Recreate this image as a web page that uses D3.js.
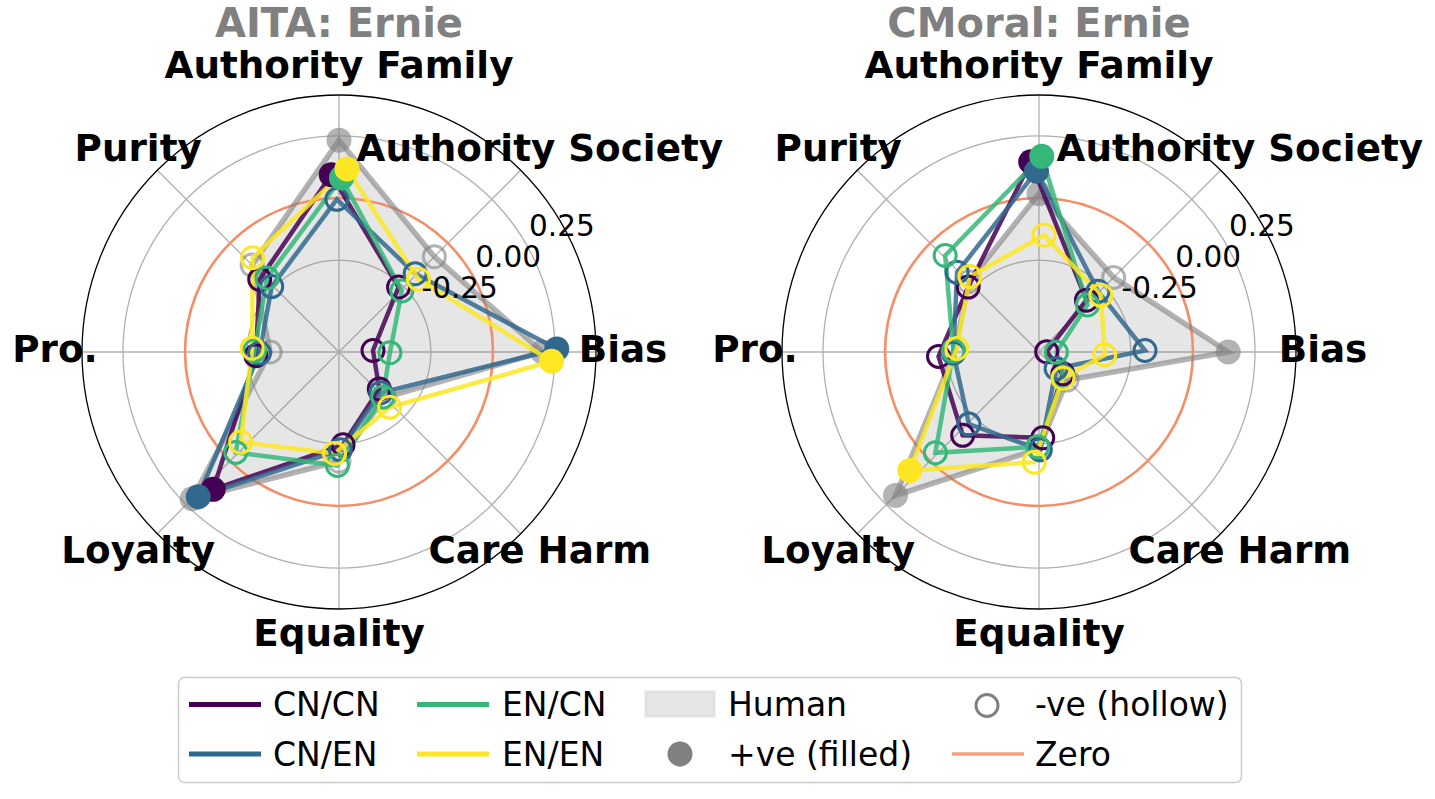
<!DOCTYPE html>
<html><head><meta charset="utf-8">
<script src="https://cdn.jsdelivr.net/npm/d3@7"></script>
<style>body{margin:0;background:#fff} svg{display:block} text{font-family:"DejaVu Sans",sans-serif}</style>
</head><body><svg id="c" width="1435" height="799"></svg>
<script>
// ---------- data ----------
const categories = ["Bias","Authority Society","Authority Family","Purity","Pro.","Loyalty","Equality","Care Harm"];
const seriesNames = ["CN/CN","CN/EN","EN/CN","EN/EN"];
const radialTicks = [-0.25, 0, 0.25];
const radialTickLabels = ["-0.25","0.00","0.25"];
const radialDomain = [-0.62, 0.415];
const chartTitles = ["AITA: Ernie","CMoral: Ernie"];

// AITA
const aitaCNCN  = [-0.483, -0.265,  0.095, -0.187, -0.285,  0.130, -0.246, -0.400];
const aitaCNEN  = [ 0.257, -0.180, -0.005, -0.242, -0.300,  0.193, -0.226, -0.385];
const aitaENCN  = [-0.415, -0.267,  0.081, -0.204, -0.280, -0.040, -0.163, -0.367];
const aitaENEN  = [ 0.237, -0.186,  0.118, -0.105, -0.270, -0.083, -0.211, -0.318];
const aitaHuman = [ 0.200, -0.077,  0.233, -0.125, -0.343,  0.216, -0.180, -0.360];
// CMoral
const cmCNCN  = [-0.589, -0.337,  0.147, -0.233, -0.215, -0.165, -0.274, -0.490];
const cmCNEN  = [-0.193, -0.279,  0.108, -0.160, -0.275, -0.215, -0.226, -0.524];
const cmENCN  = [-0.550, -0.348,  0.168, -0.078, -0.275, -0.038, -0.238, -0.478];
const cmENEN  = [-0.355, -0.282, -0.149, -0.208, -0.289,  0.086, -0.176, -0.477];
const cmHuman = [ 0.142, -0.195,  0.018, -0.220, -0.280,  0.197, -0.230, -0.460];

// ---------- style ----------
const colors = ["#440154","#31688e","#35b779","#fde725"];
const zeroColor = "#f58d66";
const gridColor = "#b0b0b0";
const cy = 352, R = 257;
const centersX = [339, 1039];
const angleOffsetDeg = [2.5, 0.8, -0.8, -2.5];

const svg = d3.select("#c");
const rScale = d3.scaleLinear().domain(radialDomain).range([0, R]);
const thetaScale = d3.scaleLinear().domain([0, categories.length]).range([0, 2*Math.PI]);

const datasets = [
  {series:[aitaCNCN, aitaCNEN, aitaENCN, aitaENEN], human: aitaHuman},
  {series:[cmCNCN, cmCNEN, cmENCN, cmENEN], human: cmHuman}
];

datasets.forEach((ds, ci) => {
  const cx = centersX[ci];
  const g = svg.append("g").attr("transform", `translate(${cx},${cy})`);
  const pt = (i, v, offDeg) => {
    const th = thetaScale(i) + offDeg*Math.PI/180;
    return [rScale(v)*Math.cos(th), -rScale(v)*Math.sin(th)];
  };
  radialTicks.forEach(t => {
    g.append("circle").attr("r", rScale(t)).attr("fill","none").attr("stroke",gridColor).attr("stroke-width",1.3);
  });
  categories.forEach((c,i) => {
    const th = thetaScale(i);
    g.append("line").attr("x1",0).attr("y1",0)
      .attr("x2", R*Math.cos(th)).attr("y2", -R*Math.sin(th))
      .attr("stroke",gridColor).attr("stroke-width",1.3);
  });
  g.append("circle").attr("r",R).attr("fill","none").attr("stroke","#000").attr("stroke-width",1.3);

  const lineGen = (off) => d3.lineRadial()
      .angle((d,i) => Math.PI/2 - (thetaScale(i) + off*Math.PI/180))
      .radius(d => rScale(d))
      .curve(d3.curveLinearClosed);
  g.append("path").attr("d", lineGen(0)(ds.human))
    .attr("fill","#808080").attr("fill-opacity",0.2).attr("stroke","none");
  g.append("circle").attr("r", rScale(0)).attr("fill","none").attr("stroke",zeroColor).attr("stroke-width",2.6);
  g.append("path").attr("d", lineGen(0)(ds.human))
    .attr("fill","none").attr("stroke","#808080").attr("stroke-opacity",0.6).attr("stroke-width",5.5);
  ds.human.forEach((v,i) => {
    const [x,y] = pt(i,v,0);
    if (v >= 0) g.append("circle").attr("cx",x).attr("cy",y).attr("r",12.5).attr("fill","#808080").attr("fill-opacity",0.6);
    else g.append("circle").attr("cx",x).attr("cy",y).attr("r",11).attr("fill","none").attr("stroke","#808080").attr("stroke-opacity",0.6).attr("stroke-width",3);
  });
  ds.series.forEach((vals, si) => {
    g.append("path").attr("d", lineGen(angleOffsetDeg[si])(vals))
      .attr("fill","none").attr("stroke",colors[si]).attr("stroke-opacity",0.85).attr("stroke-width",4.5);
  });
  ds.series.forEach((vals, si) => {
    vals.forEach((v,i) => {
      const [x,y] = pt(i,v,angleOffsetDeg[si]);
      if (v >= 0) g.append("circle").attr("cx",x).attr("cy",y).attr("r",12.5).attr("fill",colors[si]);
      else g.append("circle").attr("cx",x).attr("cy",y).attr("r",11).attr("fill","none").attr("stroke",colors[si]).attr("stroke-width",3);
    });
  });
  radialTicks.forEach((t,k) => {
    const r = rScale(t);
    g.append("text").attr("x", r*Math.cos(Math.PI/6)+3).attr("y", -r*Math.sin(Math.PI/6)-8)
      .attr("font-size",29.5).attr("fill","#000").text(radialTickLabels[k]);
  });
  categories.forEach((c,i) => {
    const th = thetaScale(i);
    g.append("text").attr("x", 284*Math.cos(th)).attr("y", -284*Math.sin(th)-3)
      .attr("text-anchor","middle").attr("dominant-baseline","central")
      .attr("font-size",37.3).attr("font-weight","bold").attr("fill","#000").text(c);
  });
  svg.append("text").attr("x",cx).attr("y",37).attr("text-anchor","middle")
    .attr("font-size",40).attr("font-weight","bold").attr("fill","#808080").text(chartTitles[ci]);
});

// ---------- legend ----------
const lg = svg.append("g");
lg.append("rect").attr("x",178.5).attr("y",677.5).attr("width",1063).attr("height",105).attr("rx",6)
  .attr("fill","#fff").attr("stroke","#cccccc").attr("stroke-width",1.5);
const row = [704.5, 754];
const colHandle = [189, 417, 644, 952];
const hLen = 72;
const colText = [273, 502, 728, 1035];
const legendItems = [
  {label:"CN/CN", type:"line", color:colors[0], c:0, r:0},
  {label:"CN/EN", type:"line", color:colors[1], c:0, r:1},
  {label:"EN/CN", type:"line", color:colors[2], c:1, r:0},
  {label:"EN/EN", type:"line", color:colors[3], c:1, r:1},
  {label:"Human", type:"patch", c:2, r:0},
  {label:"+ve (filled)", type:"filled", c:2, r:1},
  {label:"-ve (hollow)", type:"hollow", c:3, r:0},
  {label:"Zero", type:"zero", c:3, r:1}
];
legendItems.forEach(it => {
  const x0 = colHandle[it.c], y = row[it.r];
  if (it.type === "line") lg.append("line").attr("x1",x0).attr("x2",x0+hLen).attr("y1",y).attr("y2",y).attr("stroke",it.color).attr("stroke-width",5);
  if (it.type === "zero") lg.append("line").attr("x1",x0).attr("x2",x0+hLen).attr("y1",y).attr("y2",y).attr("stroke",zeroColor).attr("stroke-opacity",0.85).attr("stroke-width",3.5);
  if (it.type === "patch") lg.append("rect").attr("x",x0+1.5).attr("y",y-13).attr("width",hLen-3).attr("height",25)
      .attr("fill","#808080").attr("fill-opacity",0.2).attr("stroke","#808080").attr("stroke-opacity",0.12).attr("stroke-width",3);
  if (it.type === "filled") lg.append("circle").attr("cx",x0+hLen/2).attr("cy",y).attr("r",12.5).attr("fill","#808080");
  if (it.type === "hollow") lg.append("circle").attr("cx",x0+hLen/2-1).attr("cy",y+1).attr("r",11).attr("fill","none").attr("stroke","#808080").attr("stroke-width",3);
  lg.append("text").attr("x",colText[it.c]).attr("y",y).attr("dominant-baseline","central")
    .attr("font-size",33).attr("fill","#000").text(it.label);
});
</script></body></html>
